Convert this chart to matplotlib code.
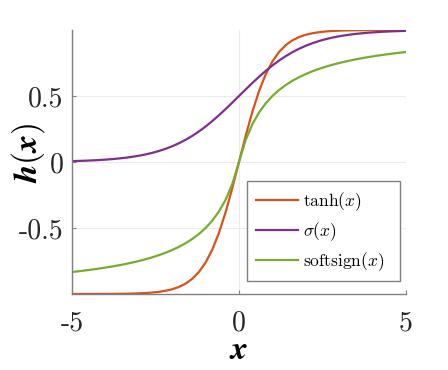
import matplotlib
matplotlib.use('Agg')
import matplotlib.pyplot as plt

# sample positions and curve values
x = [-5.0, -4.8, -4.6, -4.4, -4.2, -4.0, -3.8, -3.6, -3.4, -3.2,
     -3.0, -2.8, -2.6, -2.4, -2.2, -2.0, -1.8, -1.6, -1.4, -1.2,
     -1.0, -0.8, -0.6, -0.4, -0.2, 0.0, 0.2, 0.4, 0.6, 0.8,
     1.0, 1.2, 1.4, 1.6, 1.8, 2.0, 2.2, 2.4, 2.6, 2.8,
     3.0, 3.2, 3.4, 3.6, 3.8, 4.0, 4.2, 4.4, 4.6, 4.8, 5.0]

tanh_y = [-0.9999, -0.9999, -0.9998, -0.9997, -0.9996, -0.9993, -0.9990, -0.9985, -0.9978, -0.9967,
          -0.9951, -0.9926, -0.9890, -0.9837, -0.9757, -0.9640, -0.9468, -0.9217, -0.8854, -0.8337,
          -0.7616, -0.6640, -0.5370, -0.3799, -0.1974, 0.0, 0.1974, 0.3799, 0.5370, 0.6640,
          0.7616, 0.8337, 0.8854, 0.9217, 0.9468, 0.9640, 0.9757, 0.9837, 0.9890, 0.9926,
          0.9951, 0.9967, 0.9978, 0.9985, 0.9990, 0.9993, 0.9996, 0.9997, 0.9998, 0.9999, 0.9999]

sigmoid_y = [0.0067, 0.0082, 0.0100, 0.0121, 0.0148, 0.0180, 0.0219, 0.0266, 0.0323, 0.0392,
             0.0474, 0.0573, 0.0691, 0.0832, 0.0998, 0.1192, 0.1419, 0.1680, 0.1978, 0.2315,
             0.2689, 0.3100, 0.3543, 0.4013, 0.4502, 0.5, 0.5498, 0.5987, 0.6457, 0.6900,
             0.7311, 0.7685, 0.8022, 0.8320, 0.8581, 0.8808, 0.9002, 0.9168, 0.9309, 0.9427,
             0.9526, 0.9608, 0.9677, 0.9734, 0.9781, 0.9820, 0.9852, 0.9879, 0.9900, 0.9918, 0.9933]

softsign_y = [-0.8333, -0.8276, -0.8214, -0.8148, -0.8077, -0.8000, -0.7917, -0.7826, -0.7727, -0.7619,
              -0.7500, -0.7368, -0.7222, -0.7059, -0.6875, -0.6667, -0.6429, -0.6154, -0.5833, -0.5455,
              -0.5000, -0.4444, -0.3750, -0.2857, -0.1667, 0.0, 0.1667, 0.2857, 0.3750, 0.4444,
              0.5000, 0.5455, 0.5833, 0.6154, 0.6429, 0.6667, 0.6875, 0.7059, 0.7222, 0.7368,
              0.7500, 0.7619, 0.7727, 0.7826, 0.7917, 0.8000, 0.8077, 0.8148, 0.8214, 0.8276, 0.8333]

xticks = [-5, 0, 5]
xtick_labels = ['-5', '0', '5']
yticks = [-0.5, 0, 0.5]
ytick_labels = ['-0.5', '0', '0.5']

plt.rcParams['font.family'] = 'cmr10'
plt.rcParams['mathtext.fontset'] = 'cm'
plt.rcParams['axes.unicode_minus'] = False

fig = plt.figure(figsize=(4.48, 3.70), dpi=100)
ax = fig.add_axes([0.1607, 0.2054, 0.7455, 0.7135])

ax.plot(x, tanh_y, color='#D95319', lw=1.6, label=r'$\tanh(x)$')
ax.plot(x, sigmoid_y, color='#7E2F8E', lw=1.6, label=r'$\sigma(x)$')
ax.plot(x, softsign_y, color='#77AC30', lw=1.6, label=r'$\mathrm{softsign}(x)$')

ax.set_xlim(-5, 5)
ax.set_ylim(-1, 1)
ax.set_xticks(xticks)
ax.set_xticklabels(xtick_labels)
ax.set_yticks(yticks)
ax.set_yticklabels(ytick_labels)
ax.tick_params(direction='in', length=3, color='#808080', labelsize=20, labelcolor='#262626')
ax.tick_params(axis='x', pad=12)
ax.tick_params(axis='y', pad=6)
ax.grid(True, color='#EBEBEB', lw=0.8)

for side in ['top', 'right']:
    ax.spines[side].set_visible(False)
for side in ['left', 'bottom']:
    ax.spines[side].set_color('#808080')
    ax.spines[side].set_linewidth(1.0)

ax.set_xlabel(r'$\boldsymbol{x}$', fontsize=24)
ax.set_ylabel(r'$\boldsymbol{h(x)}$', fontsize=24)
ax.xaxis.set_label_coords(0.5, -0.158)
ax.yaxis.set_label_coords(-0.075, 0.535)

leg = ax.legend(loc='lower left', bbox_to_anchor=(0.524, 0.048, 0.458, 0.37), mode='expand',
                borderaxespad=0, fontsize=12.5, handlelength=2.45, handletextpad=0.25,
                labelspacing=0.42, borderpad=0.5, fancybox=False, framealpha=1,
                edgecolor='#808080')
leg.get_frame().set_linewidth(1.0)

fig.savefig('out.png', dpi=100)
